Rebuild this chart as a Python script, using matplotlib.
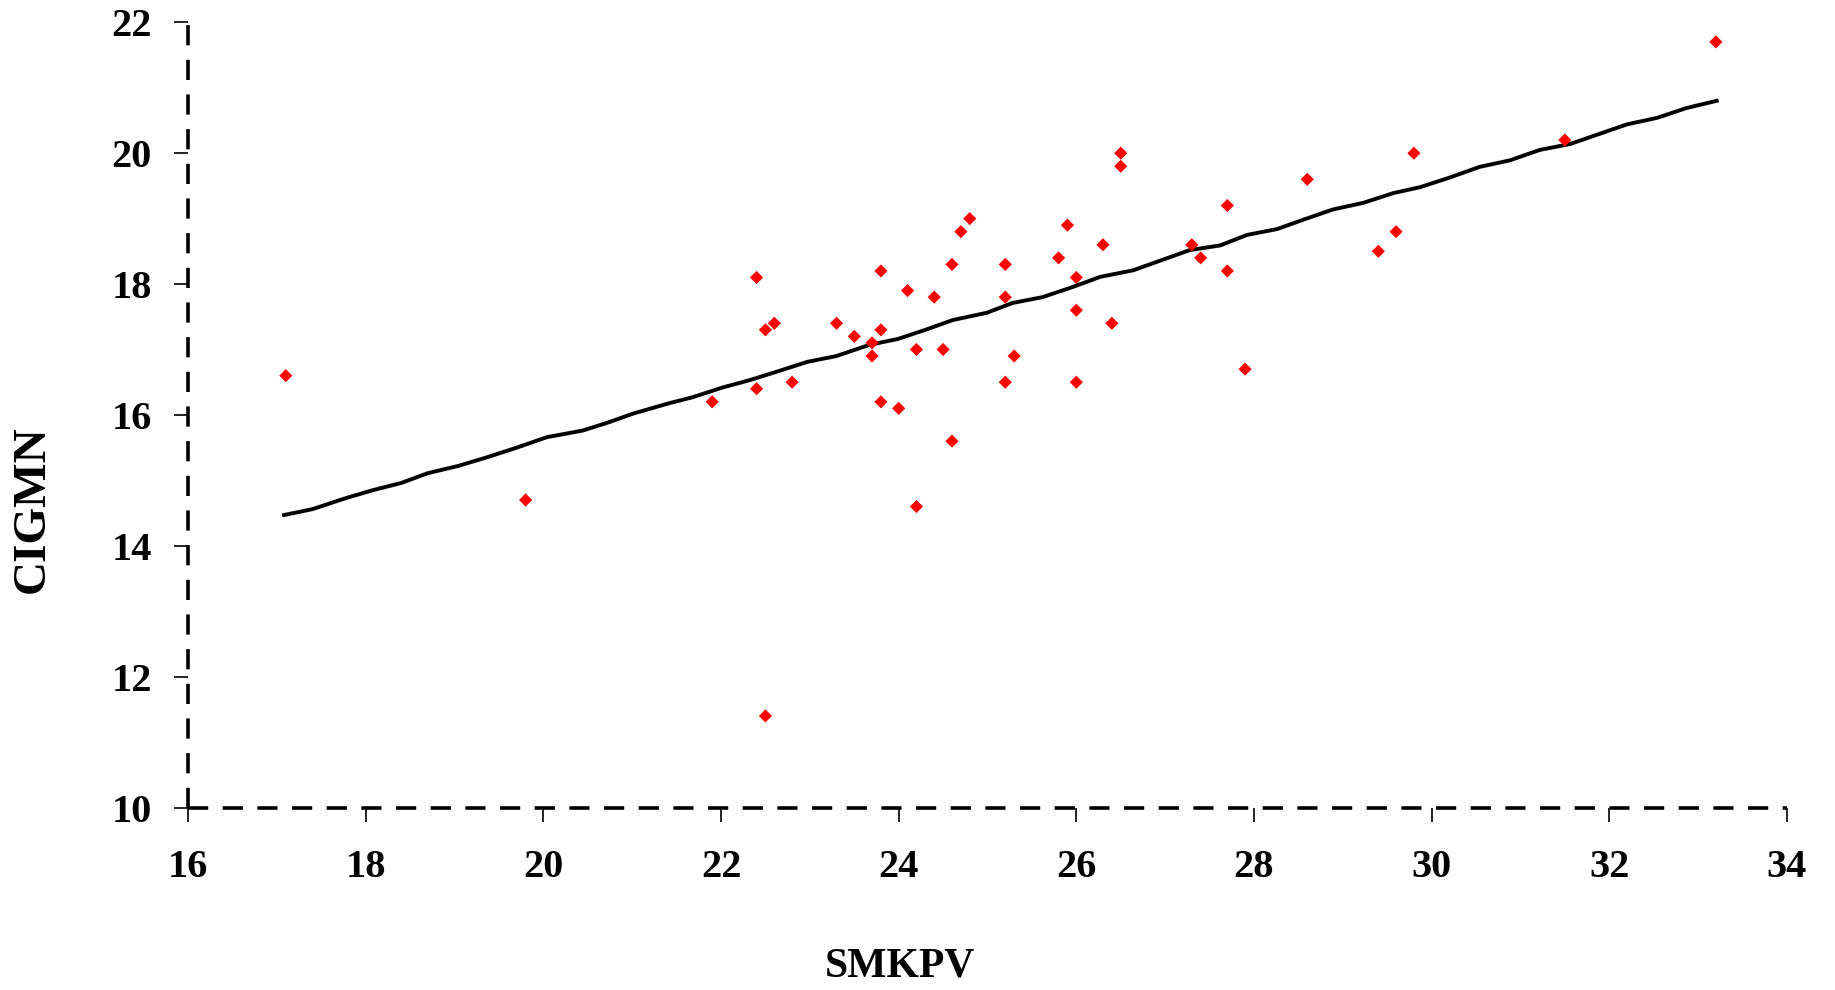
import numpy as np
import matplotlib.pyplot as plt

# ---------------- data ----------------
smkpv = [17.1, 19.8, 21.9, 22.4, 22.4, 22.5, 22.6, 22.5, 22.8, 23.3,
         23.5, 23.7, 23.7, 23.8, 23.8, 23.8, 24.0, 24.1, 24.2, 24.2,
         24.4, 24.5, 24.6, 24.6, 24.7, 24.8, 25.2, 25.2, 25.2, 25.3,
         25.8, 25.9, 26.0, 26.0, 26.0, 26.3, 26.4, 26.5, 26.5, 27.3,
         27.4, 27.7, 27.7, 27.9, 28.6, 29.4, 29.6, 29.8, 31.5, 33.2]
cigmn = [16.6, 14.7, 16.2, 18.1, 16.4, 17.3, 17.4, 11.4, 16.5, 17.4,
         17.2, 17.1, 16.9, 18.2, 17.3, 16.2, 16.1, 17.9, 17.0, 14.6,
         17.8, 17.0, 18.3, 15.6, 18.8, 19.0, 18.3, 17.8, 16.5, 16.9,
         18.4, 18.9, 18.1, 17.6, 16.5, 18.6, 17.4, 20.0, 19.8, 18.6,
         18.4, 19.2, 18.2, 16.7, 19.6, 18.5, 18.8, 20.0, 20.2, 21.7]

fit_x = [17.08, 17.40, 17.78, 18.08, 18.40, 18.70, 19.04, 19.36, 19.70, 20.04,
         20.44, 20.72, 21.01, 21.42, 21.68, 22.02, 22.32, 22.65, 22.97, 23.30,
         23.67, 23.99, 24.30, 24.61, 24.99, 25.28, 25.62, 25.95, 26.27, 26.64,
         26.95, 27.28, 27.62, 27.92, 28.26, 28.57, 28.89, 29.23, 29.57, 29.87,
         30.21, 30.54, 30.88, 31.22, 31.56, 31.88, 32.20, 32.54, 32.87, 33.21]
fit_y = [14.47, 14.56, 14.73, 14.85, 14.96, 15.11, 15.22, 15.35, 15.50, 15.66,
         15.76, 15.88, 16.02, 16.18, 16.27, 16.42, 16.53, 16.67, 16.81, 16.90,
         17.07, 17.16, 17.30, 17.45, 17.56, 17.71, 17.80, 17.95, 18.11, 18.21,
         18.36, 18.52, 18.59, 18.75, 18.84, 18.99, 19.14, 19.24, 19.39, 19.48,
         19.63, 19.79, 19.89, 20.05, 20.14, 20.29, 20.44, 20.54, 20.69, 20.80]

x_ticks = [16, 18, 20, 22, 24, 26, 28, 30, 32, 34]
y_ticks = [10, 12, 14, 16, 18, 20, 22]

# ---------------- plotting ----------------
plt.rcParams['font.family'] = ['Liberation Serif', 'DejaVu Serif']
plt.rcParams['font.weight'] = 'bold'

fig = plt.figure(figsize=(18.35, 9.9), dpi=100)
ax = fig.add_axes([0.1025, 0.1843, 0.8713, 0.7932])

ax.plot(fit_x, fit_y, color='black', lw=2.8, zorder=2)
ax.scatter(smkpv, cigmn, marker='D', s=45, color='#ff0000', edgecolors='none', zorder=3)

ax.set_xlim(16, 34)
ax.set_ylim(10, 22)
ax.set_xticks(x_ticks)
ax.set_yticks(y_ticks)

for side in ['top', 'right']:
    ax.spines[side].set_visible(False)
for side in ['left', 'bottom']:
    ax.spines[side].set_linewidth(2.6)
    ax.spines[side].set_linestyle((0, (5.6, 4.0)))
    ax.spines[side].set_capstyle('butt')

ax.tick_params(axis='both', direction='out', length=10, width=1.2, labelsize=29)
ax.tick_params(axis='x', pad=20)
ax.tick_params(axis='y', pad=16)
for lab in ax.get_xticklabels() + ax.get_yticklabels():
    lab.set_fontweight('bold')

ax.set_xlabel('SMKPV', fontsize=30, fontweight='bold', va='center')
ax.set_ylabel('CIGMN', fontsize=34, fontweight='bold', va='center')
ax.xaxis.set_label_coords(0.445, -0.203)
ax.yaxis.set_label_coords(-0.097, 0.38)

fig.savefig('out.png', dpi=100)
